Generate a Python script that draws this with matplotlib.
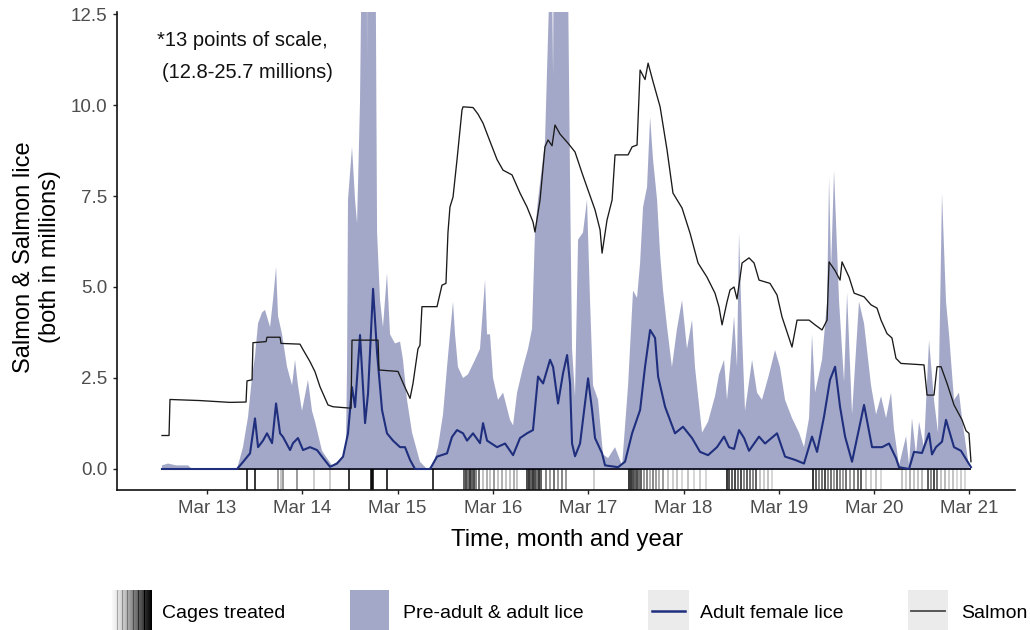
import numpy as np
import matplotlib
matplotlib.use("Agg")
import matplotlib.pyplot as plt
from matplotlib.patches import Rectangle
from matplotlib.lines import Line2D

plt.rcParams['font.family'] = ['Liberation Sans', 'DejaVu Sans']

# ---- data (time in decimal years, counts in millions) ----
salmon_time = [
    2012.689, 2012.763, 2012.773, 2013.088, 2013.403, 2013.571, 2013.581, 2013.634,
    2013.644, 2013.781, 2013.791, 2013.928, 2013.938, 2014.137, 2014.169, 2014.242,
    2014.295, 2014.347, 2014.431, 2014.484, 2014.673, 2014.683, 2014.956, 2014.966,
    2015.166, 2015.229, 2015.292, 2015.323, 2015.375, 2015.396, 2015.417, 2015.575,
    2015.627, 2015.669, 2015.690, 2015.711, 2015.743, 2015.785, 2015.837, 2015.848,
    2015.953, 2016.005, 2016.058, 2016.131, 2016.205, 2016.268, 2016.362, 2016.446,
    2016.519, 2016.582, 2016.603, 2016.656, 2016.708, 2016.740, 2016.782, 2016.813,
    2016.866, 2016.950, 2017.023, 2017.097, 2017.160, 2017.233, 2017.286, 2017.307,
    2017.359, 2017.412, 2017.443, 2017.580, 2017.622, 2017.674, 2017.706, 2017.758,
    2017.790, 2017.842, 2017.916, 2017.989, 2018.051, 2018.146, 2018.230, 2018.314,
    2018.408, 2018.492, 2018.534, 2018.566, 2018.618, 2018.650, 2018.692, 2018.723,
    2018.776, 2018.849, 2018.902, 2018.954, 2019.069, 2019.143, 2019.195, 2019.300,
    2019.353, 2019.479, 2019.542, 2019.615, 2019.668, 2019.689, 2019.752, 2019.804,
    2019.825, 2019.899, 2019.952, 2020.056, 2020.129, 2020.192, 2020.234, 2020.297,
    2020.349, 2020.391, 2020.444, 2020.685, 2020.717, 2020.790, 2020.822, 2020.864,
    2020.927, 2021.000, 2021.084, 2021.126, 2021.157, 2021.178,
]
salmon_millions = [
    0.92, 0.92, 1.91, 1.88, 1.83, 1.84, 2.42, 2.45,
    3.47, 3.50, 3.62, 3.62, 3.45, 3.43, 3.28, 2.95,
    2.67, 2.26, 1.76, 1.71, 1.67, 3.54, 3.54, 2.72,
    2.68, 2.30, 1.94, 2.35, 3.30, 3.40, 4.46, 4.46,
    5.05, 5.10, 6.50, 7.20, 7.47, 8.50, 9.86, 9.95,
    9.93, 9.75, 9.50, 9.00, 8.50, 8.21, 8.08, 7.58,
    7.20, 6.79, 6.51, 7.39, 8.85, 9.04, 8.88, 9.45,
    9.20, 8.95, 8.71, 8.13, 7.66, 7.12, 6.57, 5.93,
    6.84, 7.39, 8.63, 8.63, 8.85, 8.90, 10.96, 10.70,
    11.15, 10.64, 9.95, 8.76, 7.58, 7.17, 6.48, 5.66,
    5.27, 4.83, 4.45, 3.96, 4.59, 4.92, 5.00, 4.67,
    5.66, 5.80, 5.66, 5.19, 5.10, 4.78, 4.18, 3.35,
    4.09, 4.09, 3.96, 3.82, 4.09, 5.69, 5.45, 5.19,
    5.69, 5.27, 4.83, 4.73, 4.51, 4.42, 4.09, 3.72,
    3.60, 3.04, 2.90, 2.86, 2.03, 2.03, 2.81, 2.81,
    2.35, 1.76, 1.35, 1.05, 0.98, 0.20,
]

female_time = [
    2012.689, 2013.476, 2013.529, 2013.613, 2013.665, 2013.697, 2013.749, 2013.791,
    2013.844, 2013.886, 2013.928, 2013.959, 2014.033, 2014.064, 2014.116, 2014.169,
    2014.242, 2014.316, 2014.368, 2014.452, 2014.526, 2014.589, 2014.641, 2014.683,
    2014.715, 2014.767, 2014.820, 2014.851, 2014.904, 2014.946, 2014.998, 2015.050,
    2015.113, 2015.187, 2015.239, 2015.292, 2015.344, 2015.502, 2015.575, 2015.680,
    2015.732, 2015.785, 2015.848, 2015.890, 2015.953, 2016.026, 2016.058, 2016.100,
    2016.205, 2016.289, 2016.373, 2016.446, 2016.519, 2016.582, 2016.635, 2016.688,
    2016.761, 2016.793, 2016.845, 2016.898, 2016.940, 2016.971, 2016.992, 2017.023,
    2017.076, 2017.160, 2017.202, 2017.233, 2017.307, 2017.338, 2017.475, 2017.548,
    2017.622, 2017.706, 2017.758, 2017.811, 2017.863, 2017.895, 2017.968, 2018.072,
    2018.156, 2018.251, 2018.335, 2018.419, 2018.513, 2018.587, 2018.639, 2018.692,
    2018.744, 2018.797, 2018.849, 2018.954, 2019.017, 2019.143, 2019.227, 2019.332,
    2019.426, 2019.510, 2019.563, 2019.636, 2019.699, 2019.752, 2019.804, 2019.857,
    2019.930, 2020.056, 2020.140, 2020.245, 2020.318, 2020.391, 2020.423, 2020.528,
    2020.580, 2020.664, 2020.738, 2020.769, 2020.811, 2020.874, 2020.916, 2021.000,
    2021.073, 2021.178,
]
female_millions = [
    0.00, 0.00, 0.16, 0.43, 1.39, 0.60, 0.78, 0.98,
    0.71, 1.80, 0.98, 0.88, 0.52, 0.71, 0.85, 0.52,
    0.60, 0.52, 0.34, 0.06, 0.15, 0.34, 0.98, 2.25,
    1.70, 3.68, 1.26, 2.07, 4.95, 3.19, 1.62, 0.98,
    0.78, 0.60, 0.60, 0.25, 0.00, 0.00, 0.34, 0.43,
    0.88, 1.07, 0.98, 0.78, 0.98, 0.71, 1.26, 0.78,
    0.60, 0.70, 0.38, 0.85, 0.98, 1.07, 2.54, 2.35,
    3.00, 2.80, 1.80, 2.64, 3.13, 2.35, 0.70, 0.35,
    0.70, 2.49, 1.62, 0.85, 0.43, 0.10, 0.05, 0.20,
    0.98, 1.62, 2.81, 3.82, 3.60, 2.54, 1.71, 0.98,
    1.16, 0.85, 0.47, 0.38, 0.60, 0.89, 0.60, 0.55,
    1.07, 0.85, 0.50, 0.89, 0.70, 0.98, 0.34, 0.25,
    0.15, 0.89, 0.47, 1.44, 2.45, 2.81, 1.71, 0.89,
    0.20, 1.76, 0.60, 0.60, 0.70, 0.30, 0.05, 0.00,
    0.47, 0.44, 0.98, 0.40, 0.60, 0.75, 1.35, 0.60,
    0.50, 0.05,
]

lice_time = [
    2012.689, 2012.752, 2012.836, 2012.962, 2013.004, 2013.476, 2013.487, 2013.539,
    2013.592, 2013.634, 2013.665, 2013.697, 2013.739, 2013.770, 2013.823, 2013.854,
    2013.886, 2013.907, 2013.949, 2014.001, 2014.054, 2014.085, 2014.116, 2014.158,
    2014.221, 2014.263, 2014.295, 2014.368, 2014.473, 2014.578, 2014.620, 2014.631,
    2014.641, 2014.683, 2014.715, 2014.736, 2014.767, 2014.788, 2014.830, 2014.841,
    2014.851, 2014.925, 2014.946, 2014.977, 2015.008, 2015.050, 2015.082, 2015.134,
    2015.187, 2015.218, 2015.260, 2015.313, 2015.396, 2015.470, 2015.533, 2015.585,
    2015.638, 2015.680, 2015.711, 2015.743, 2015.764, 2015.795, 2015.848, 2015.900,
    2015.974, 2016.026, 2016.079, 2016.100, 2016.131, 2016.163, 2016.215, 2016.268,
    2016.341, 2016.373, 2016.415, 2016.478, 2016.530, 2016.572, 2016.603, 2016.635,
    2016.708, 2016.751, 2016.761, 2016.793, 2016.813, 2016.950, 2016.971, 2016.992,
    2017.023, 2017.055, 2017.107, 2017.149, 2017.181, 2017.212, 2017.265, 2017.317,
    2017.370, 2017.443, 2017.517, 2017.580, 2017.632, 2017.674, 2017.706, 2017.737,
    2017.779, 2017.811, 2017.842, 2017.884, 2017.916, 2017.947, 2017.989, 2018.040,
    2018.093, 2018.146, 2018.198, 2018.251, 2018.282, 2018.356, 2018.419, 2018.492,
    2018.534, 2018.587, 2018.618, 2018.650, 2018.692, 2018.723, 2018.744, 2018.776,
    2018.807, 2018.881, 2018.933, 2018.985, 2019.059, 2019.122, 2019.174, 2019.227,
    2019.300, 2019.374, 2019.426, 2019.479, 2019.510, 2019.542, 2019.615, 2019.668,
    2019.689, 2019.710, 2019.741, 2019.794, 2019.846, 2019.878, 2019.930, 2020.003,
    2020.056, 2020.129, 2020.182, 2020.234, 2020.287, 2020.339, 2020.370, 2020.423,
    2020.497, 2020.528, 2020.559, 2020.601, 2020.633, 2020.685, 2020.738, 2020.790,
    2020.832, 2020.874, 2020.916, 2020.948, 2021.000, 2021.052, 2021.084, 2021.157,
    2021.178,
]
lice_millions = [
    0.10, 0.15, 0.10, 0.10, 0.00, 0.00, 0.10, 0.60,
    1.43, 2.54, 3.10, 4.00, 4.30, 4.37, 3.90, 4.64,
    5.55, 4.20, 3.70, 2.81, 2.30, 3.00, 2.30, 1.60,
    2.45, 1.60, 1.30, 0.50, 0.10, 0.30, 0.70, 2.80,
    7.40, 8.85, 7.40, 6.75, 10.10, 14.90, 21.30, 11.20,
    25.70, 16.80, 6.50, 4.64, 3.90, 5.38, 3.70, 3.45,
    3.50, 3.00, 1.90, 1.00, 0.20, 0.00, 0.10, 0.60,
    1.50, 2.80, 3.70, 4.60, 3.70, 2.80, 2.50, 2.60,
    3.00, 3.30, 5.20, 3.70, 3.70, 2.50, 1.90, 2.10,
    1.35, 1.20, 2.10, 2.80, 3.30, 3.85, 6.50, 7.40,
    9.00, 12.90, 18.40, 10.80, 22.60, 13.40, 7.90, 3.30,
    2.00, 6.30, 6.50, 7.40, 4.60, 2.30, 1.90, 0.40,
    0.30, 0.60, 0.10, 2.30, 4.90, 4.70, 5.66, 7.20,
    7.75, 9.67, 8.50, 7.40, 5.90, 4.90, 3.90, 2.80,
    3.85, 4.64, 3.30, 4.10, 2.80, 1.00, 1.30, 2.00,
    2.60, 3.00, 1.90, 2.80, 4.20, 2.80, 6.50, 3.70,
    1.60, 3.00, 2.10, 1.90, 2.60, 3.27, 2.80, 1.90,
    1.40, 1.00, 0.60, 1.40, 3.70, 2.10, 3.00, 4.60,
    8.00, 5.50, 8.20, 4.60, 2.40, 4.85, 1.50, 4.60,
    4.00, 2.30, 1.50, 2.00, 1.40, 2.10, 1.10, 0.10,
    0.90, 0.10, 1.40, 0.40, 1.30, 0.60, 3.54, 1.90,
    1.00, 7.58, 4.60, 3.70, 1.90, 2.10, 1.40, 0.05,
    0.00,
]

# delousing events and the share of cages treated at each event
treat_time = [
    2013.581, 2013.665, 2013.907, 2013.938, 2013.959, 2014.106, 2014.284, 2014.452,
    2014.652, 2014.883, 2014.893, 2014.904, 2015.050, 2015.533, 2015.858, 2015.879,
    2015.900, 2015.921, 2015.942, 2015.963, 2015.984, 2016.016, 2016.058, 2016.100,
    2016.131, 2016.173, 2016.215, 2016.257, 2016.299, 2016.341, 2016.383, 2016.415,
    2016.519, 2016.540, 2016.561, 2016.582, 2016.603, 2016.624, 2016.645, 2016.666,
    2016.719, 2016.761, 2016.803, 2016.845, 2016.887, 2016.929, 2017.222, 2017.590,
    2017.611, 2017.632, 2017.653, 2017.674, 2017.695, 2017.716, 2017.748, 2017.779,
    2017.811, 2017.842, 2017.874, 2017.905, 2017.947, 2017.999, 2018.051, 2018.093,
    2018.146, 2018.209, 2018.272, 2018.335, 2018.398, 2018.618, 2018.639, 2018.671,
    2018.702, 2018.734, 2018.765, 2018.797, 2018.828, 2018.860, 2018.891, 2018.923,
    2018.964, 2019.006, 2019.048, 2019.090, 2019.520, 2019.552, 2019.583, 2019.615,
    2019.647, 2019.678, 2019.710, 2019.741, 2019.773, 2019.804, 2019.836, 2019.867,
    2019.909, 2019.952, 2019.994, 2020.024, 2020.077, 2020.129, 2020.182, 2020.234,
    2020.454, 2020.497, 2020.539, 2020.580, 2020.622, 2020.664, 2020.727, 2020.759,
    2020.790, 2020.822, 2020.864, 2020.906, 2020.948, 2020.990, 2021.031, 2021.073,
    2021.115,
]
treat_share = [
    1.0, 1.0, 0.5, 0.3, 0.5, 0.5, 0.25, 0.25,
    1.0, 1.0, 1.0, 1.0, 1.0, 1.0, 0.8, 0.9,
    0.7, 1.0, 0.8, 0.9, 0.6, 0.7, 0.3, 0.4,
    0.3, 0.5, 0.3, 0.4, 0.3, 0.3, 0.4, 0.3,
    0.9, 1.0, 0.8, 1.0, 0.9, 0.7, 1.0, 0.8,
    0.6, 0.5, 0.7, 0.5, 0.6, 0.5, 0.25, 1.0,
    1.0, 0.9, 0.8, 0.9, 0.7, 0.8, 0.5, 0.6,
    0.4, 0.6, 0.5, 0.4, 0.5, 0.3, 0.25, 0.3,
    0.2, 0.3, 0.2, 0.25, 0.2, 1.0, 0.9, 0.8,
    0.9, 0.7, 0.9, 0.6, 0.8, 0.7, 0.6, 0.8,
    0.3, 0.25, 0.3, 0.2, 1.0, 0.8, 0.6, 0.7,
    0.9, 0.6, 0.7, 0.5, 0.8, 0.6, 0.5, 0.7,
    0.5, 0.6, 0.7, 0.8, 0.3, 0.25, 0.3, 0.2,
    0.3, 0.25, 0.4, 0.3, 0.3, 0.35, 0.8, 0.6,
    0.9, 0.7, 0.3, 0.35, 0.25, 0.3, 0.2, 0.25,
    0.2,
]

tick_years = [2013, 2014, 2015, 2016, 2017, 2018, 2019, 2020, 2021]
tick_labels = ["Mar 13", "Mar 14", "Mar 15", "Mar 16", "Mar 17",
               "Mar 18", "Mar 19", "Mar 20", "Mar 21"]
y_ticks = [0.0, 2.5, 5.0, 7.5, 10.0, 12.5]

# ---- style ----
AREA_COL = "#A3A8C8"
FEMALE_COL = "#1F2F7D"
SALMON_COL = "#1A1A1A"
KEY_BG = "#EBEBEB"
TICK_COL = "#4D4D4D"

W, H = 1030, 630
fig = plt.figure(figsize=(W / 100, H / 100), dpi=100)


def fx(px):
    return px / W


def fy(py):
    return 1 - py / H


ax = fig.add_axes([fx(117), fy(490), fx(1015) - fx(117), fy(12) - fy(490)])

ax.fill_between(lice_time, 0, lice_millions, color=AREA_COL, lw=0, zorder=1)
ax.hlines(0, lice_time[0], lice_time[-1], color="#1C1C2E", lw=1.4, zorder=2)
ax.plot(female_time, female_millions, color=FEMALE_COL, lw=1.5, zorder=3,
        solid_joinstyle="round")
ax.plot(salmon_time, salmon_millions, color=SALMON_COL, lw=0.95, zorder=4)

ymin, ymax = -0.577, 12.555
rug_colors = [(0, 0, 0, s) for s in treat_share]
ax.vlines(treat_time, ymin, 0, colors=rug_colors, lw=1.1, zorder=2)

ax.set_xlim(2012.217, 2021.640)
ax.set_ylim(ymin, ymax)

ax.set_xticks([y + 59 / 365 for y in tick_years])
ax.set_xticklabels(tick_labels)
ax.set_yticks(y_ticks)
ax.set_yticklabels([f"{v:.1f}" for v in y_ticks])
ax.tick_params(axis="both", length=3.2, width=1.0, color="#222222",
               labelsize=13.5, labelcolor=TICK_COL, pad=4)

for side in ("top", "right"):
    ax.spines[side].set_visible(False)
for side in ("left", "bottom"):
    ax.spines[side].set_linewidth(1.2)
    ax.spines[side].set_color("#111111")

# note about the clipped peaks
fig.text(fx(157), fy(41), "*13 points of scale,", ha="left", va="center",
         fontsize=14.5, color="#111111")
fig.text(fx(162), fy(72), "(12.8-25.7 millions)", ha="left", va="center",
         fontsize=14.5, color="#111111")

# axis titles
fig.text(fx(567), fy(540), "Time, month and year", ha="center", va="center",
         fontsize=17.3, color="black")
fig.text(fx(24), fy(257), "Salmon & Salmon lice", rotation=90,
         ha="center", va="center", fontsize=17, color="black")
fig.text(fx(50), fy(257), "(both in millions)", rotation=90,
         ha="center", va="center", fontsize=17, color="black")

# ---- legend along the bottom ----
key_top, key_bot = 590, 631
key_h = key_bot - key_top

# gradient key for treated cages
gax = fig.add_axes([fx(112), fy(key_bot), fx(40), key_h / H])
grad = np.tile(np.linspace(0.05, 1.0, 60), (10, 1))
gax.imshow(grad, cmap="Greys", vmin=0, vmax=1, aspect="auto",
           extent=[0, 1, 0, 1])
for xs, shade in [(0.12, 0.35), (0.25, 0.45), (0.38, 0.55), (0.52, 0.7),
                  (0.66, 0.85), (0.8, 1.0)]:
    gax.axvline(xs, color=str(1 - shade), lw=0.8)
gax.set_xlim(0, 1)
gax.set_ylim(0, 1)
gax.axis("off")
fig.text(fx(162), fy(613), "Cages treated", ha="left", va="center",
         fontsize=14, color="black")

fig.patches.append(Rectangle((fx(350), fy(key_bot)), fx(39), key_h / H,
                             transform=fig.transFigure, facecolor=AREA_COL,
                             edgecolor="none"))
fig.text(fx(403), fy(613), "Pre-adult & adult lice", ha="left", va="center",
         fontsize=14, color="black")

fig.patches.append(Rectangle((fx(648), fy(key_bot)), fx(41), key_h / H,
                             transform=fig.transFigure, facecolor=KEY_BG,
                             edgecolor="none"))
fig.lines.append(Line2D([fx(652), fx(685)], [fy(611), fy(611)],
                        transform=fig.transFigure, color=FEMALE_COL, lw=1.8))
fig.text(fx(700), fy(613), "Adult female lice", ha="left", va="center",
         fontsize=14, color="black")

fig.patches.append(Rectangle((fx(908), fy(key_bot)), fx(40), key_h / H,
                             transform=fig.transFigure, facecolor=KEY_BG,
                             edgecolor="none"))
fig.lines.append(Line2D([fx(911), fx(945)], [fy(611), fy(611)],
                        transform=fig.transFigure, color="#4A4A4A", lw=1.3))
fig.text(fx(961), fy(613), "Salmon", ha="left", va="center",
         fontsize=14, color="black")

fig.savefig("out.png", dpi=100)
